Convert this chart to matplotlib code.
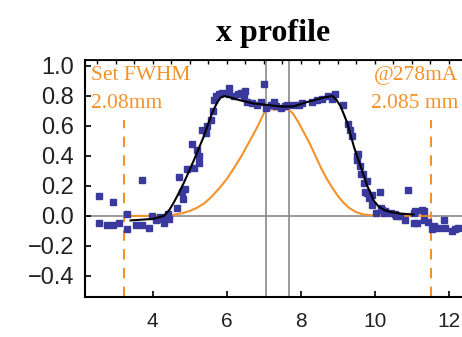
import matplotlib
matplotlib.use("Agg")
import matplotlib.pyplot as plt
import numpy as np

# measured points (blue squares)
pts_x = [2.55, 2.94, 2.55, 2.76, 2.92, 3.08, 3.3, 3.3, 3.54, 3.72, 3.9, 3.72, 3.99, 4.08, 4.26,
         4.44, 4.4, 4.2, 4.3, 4.67, 4.8, 4.83, 4.86, 4.71, 4.94, 5.12, 5.25, 5.07, 5.21, 5.25,
         5.34, 5.43, 5.48, 5.57, 5.64, 5.66, 5.7, 5.79, 5.88, 6.06, 6.06, 6.2, 6.3, 6.38, 6.47,
         6.49, 6.56, 6.69, 6.83, 6.92, 7.01, 7.05, 7.19, 7.28, 7.32, 7.46, 7.58, 7.64, 7.82, 7.95,
         8.03, 8.3, 8.43, 8.57, 8.75, 8.93, 8.84, 9.15, 9.29, 9.33, 9.38, 9.53, 9.56, 9.51, 9.6,
         9.62, 9.69, 9.71, 9.78, 9.8, 9.74, 9.85, 9.92, 9.94, 10.03, 10.14, 10.16, 10.19, 10.25,
         10.28, 10.43, 10.55, 10.68, 10.57, 10.82, 10.91, 11.06, 11.07, 11.09, 11.15, 11.29, 11.32,
         11.32, 11.45, 11.54, 11.6, 11.72, 11.86, 11.9, 12.08, 12.17, 12.26]
pts_y = [0.13, 0.09, -0.045, -0.06, -0.06, -0.05, -0.09, 0.01, -0.06, -0.06, -0.08, 0.24, 0.0, -0.03, -0.02,
         -0.02, 0.01, -0.01, -0.05, 0.05, 0.16, 0.11, 0.18, 0.26, 0.31, 0.32, 0.35, 0.48, 0.44, 0.40,
         0.57, 0.55, 0.6, 0.64, 0.70, 0.77, 0.80, 0.81, 0.82, 0.85, 0.81, 0.80, 0.81, 0.82, 0.8,
         0.83, 0.76, 0.75, 0.74, 0.76, 0.88, 0.72, 0.74, 0.76, 0.73, 0.72, 0.73, 0.74, 0.74, 0.74,
         0.75, 0.76, 0.77, 0.78, 0.80, 0.81, 0.78, 0.74, 0.61, 0.57, 0.53, 0.40, 0.41, 0.37, 0.33,
         0.28, 0.28, 0.22, 0.23, 0.15, 0.16, 0.12, 0.14, 0.07, 0.02, 0.16, 0.05, 0.04, 0.02,
         0.03, 0.02, 0.01, 0.0, 0.0, -0.03, 0.17, 0.02, -0.05, 0.03, -0.05, 0.04, 0.03,
         -0.03, -0.04, -0.09, -0.07, -0.08, -0.03, -0.08, -0.1, -0.09, -0.08]

# fit (black)
fit_x = [3.4, 4.0, 4.3, 4.45, 4.57, 4.7, 4.84, 5.11, 5.38, 5.61, 5.75, 5.84, 5.95, 6.1, 6.38, 6.73,
         7.1, 7.46, 7.8, 8.18, 8.63, 8.85, 8.95, 9.08, 9.26, 9.44, 9.62, 9.8, 9.98, 10.1, 10.25,
         10.45, 10.7, 11.05]
fit_y = [-0.03, -0.02, 0.0, 0.04, 0.09, 0.15, 0.22, 0.37, 0.53, 0.69, 0.76, 0.79, 0.80, 0.79, 0.77,
         0.75, 0.74, 0.73, 0.73, 0.76, 0.79, 0.80, 0.78, 0.73, 0.62, 0.46, 0.33, 0.2, 0.10, 0.065,
         0.04, 0.025, 0.015, 0.01]

# set profile (orange)
set_x = [3.25, 4.0, 4.5, 4.8, 5.0, 5.2, 5.4, 5.6, 5.8, 6.0, 6.2, 6.4, 6.6, 6.8, 6.95, 7.05,
         7.68, 7.8, 7.95, 8.1, 8.25, 8.4, 8.55, 8.7, 8.85, 9.0, 9.15, 9.3, 9.5, 9.7, 10.0,
         10.5, 11.0, 11.5]
set_y = [0.0, 0.0, 0.005, 0.018, 0.033, 0.055, 0.085, 0.13, 0.185, 0.245, 0.32, 0.40, 0.49, 0.58,
         0.655, 0.71, 0.71, 0.68, 0.62, 0.55, 0.48, 0.40, 0.32, 0.25, 0.19, 0.135, 0.09, 0.055,
         0.025, 0.01, 0.002, 0.0, 0.0, 0.0]

gray_v = [7.05, 7.68]
dash_v = [3.22, 11.51]

ORANGE = "#f4922a"
BLUE = "#3a3a9e"

fig = plt.figure(figsize=(4.62, 3.37), dpi=100)
ax = fig.add_axes([0.184, 0.119, 0.816, 0.703])
ax.set_xlim(2.17, 12.36)
ax.set_ylim(-0.54, 1.04)

ax.axhline(0, color="#8a8a8a", lw=1.2, zorder=1)
for gx in gray_v:
    ax.axvline(gx, color="#8a8a8a", lw=1.2, zorder=1)
for dx in dash_v:
    ax.plot([dx, dx], [-0.54, 0.64], color=ORANGE, lw=1.5, ls=(0, (5, 4)), zorder=1)

ax.plot(set_x, set_y, color=ORANGE, lw=1.5, zorder=2)
ax.plot(pts_x, pts_y, ls="none", marker="s", ms=4.5, color=BLUE, mec=BLUE, zorder=3)
ax.plot(fit_x, fit_y, color="black", lw=1.5, zorder=4)

ax.set_xticks([4, 6, 8, 10, 12])
ax.set_yticks([-0.4, -0.2, 0.0, 0.2, 0.4, 0.6, 0.8, 1.0])
ax.set_yticklabels(["\u22120.4", "\u22120.2", "0.0", "0.2", "0.4", "0.6", "0.8", "1.0"])
ax.tick_params(axis="both", direction="in", length=4, width=1.2, labelcolor="#222222")
for lab in ax.get_xticklabels():
    lab.set_fontfamily("Liberation Sans")
    lab.set_fontsize(15)
for lab in ax.get_yticklabels():
    lab.set_fontfamily("Liberation Sans")
    lab.set_fontsize(17)
ax.tick_params(axis="x", pad=11)
ax.tick_params(axis="y", pad=8)

sec = ax.secondary_xaxis("top")
sec.set_xticks(np.arange(2.5, 12.5, 0.5))
sec.set_xticklabels([])
sec.tick_params(direction="in", length=3, width=1)
sec.spines["top"].set_linewidth(1.3)

for s in ["left", "bottom"]:
    ax.spines[s].set_linewidth(1.5)
ax.spines["right"].set_visible(False)

ax.text(0.015, 0.975, "Set FWHM", transform=ax.transAxes, color=ORANGE,
        family="Liberation Serif", fontsize=15.5, va="top", ha="left")
ax.text(0.015, 0.855, "2.08mm", transform=ax.transAxes, color=ORANGE,
        family="Liberation Serif", fontsize=15.5, va="top", ha="left")
ax.text(0.99, 0.975, "@278mA", transform=ax.transAxes, color=ORANGE,
        family="Liberation Serif", fontsize=15.5, va="top", ha="right")
ax.text(0.99, 0.855, "2.085 mm", transform=ax.transAxes, color=ORANGE,
        family="Liberation Serif", fontsize=15.5, va="top", ha="right")

ax.set_title("x profile", family="Liberation Serif", fontweight="bold", fontsize=23, pad=14)

fig.savefig("out.png", dpi=100)
